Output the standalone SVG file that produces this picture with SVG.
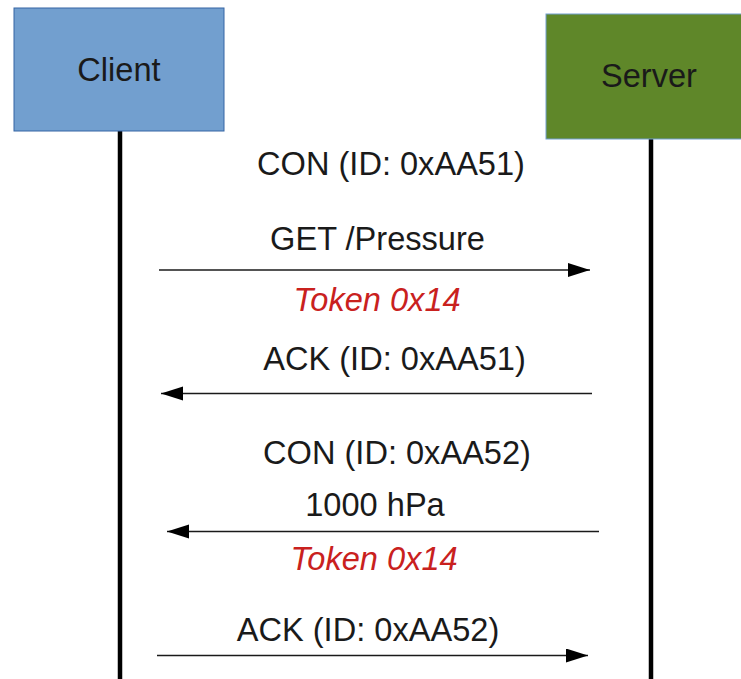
<svg xmlns="http://www.w3.org/2000/svg" width="741" height="679" viewBox="0 0 741 679">
<style>
.t{font-family:"Liberation Sans",Arial,sans-serif;font-size:32.6px;fill:#1a1a1a;text-anchor:middle}
.r{font-style:italic;fill:#c9211e}
.msg{stroke:#1a1a1a;stroke-width:1.5;fill:none}
.life{stroke:#000;stroke-width:4.5}
</style>
<defs>
<marker id="ah" markerUnits="userSpaceOnUse" markerWidth="24" markerHeight="16" refX="22" refY="7" orient="auto">
<path d="M0,0 L22,7 L0,14 Z" fill="#000"/>
</marker>
</defs>
<rect width="741" height="679" fill="#fff"/>
<g id="lifelines">
<line class="life" x1="120" y1="131" x2="120" y2="679"/>
<line class="life" x1="651" y1="139" x2="651" y2="679"/>
</g>
<g id="client">
<rect x="14" y="8" width="210" height="123" fill="#729fcf" stroke="#3465a4" stroke-width="1"/>
<text class="t" x="119" y="81">Client</text>
</g>
<g id="server">
<rect x="546" y="14" width="206" height="125" fill="#5f8729" stroke="#729fcf" stroke-width="1"/>
<text class="t" x="649" y="87">Server</text>
</g>
<g id="connectors">
<line class="msg" x1="159" y1="270" x2="590" y2="270" marker-end="url(#ah)"/>
<line class="msg" x1="592" y1="393.5" x2="161" y2="393.5" marker-end="url(#ah)"/>
<line class="msg" x1="599" y1="531.5" x2="167" y2="531.5" marker-end="url(#ah)"/>
<line class="msg" x1="157" y1="655.5" x2="588" y2="655.5" marker-end="url(#ah)"/>
</g>
<g id="labels">
<text class="t" x="391" y="175">CON (ID: 0xAA51)</text>
<text class="t" x="377.5" y="250">GET /Pressure</text>
<text class="t r" x="377" y="311">Token 0x14</text>
<text class="t" x="394.5" y="370">ACK (ID: 0xAA51)</text>
<text class="t" x="397" y="464">CON (ID: 0xAA52)</text>
<text class="t" x="375" y="516">1000 hPa</text>
<text class="t r" x="374" y="570">Token 0x14</text>
<text class="t" x="368" y="641">ACK (ID: 0xAA52)</text>
</g>
</svg>
